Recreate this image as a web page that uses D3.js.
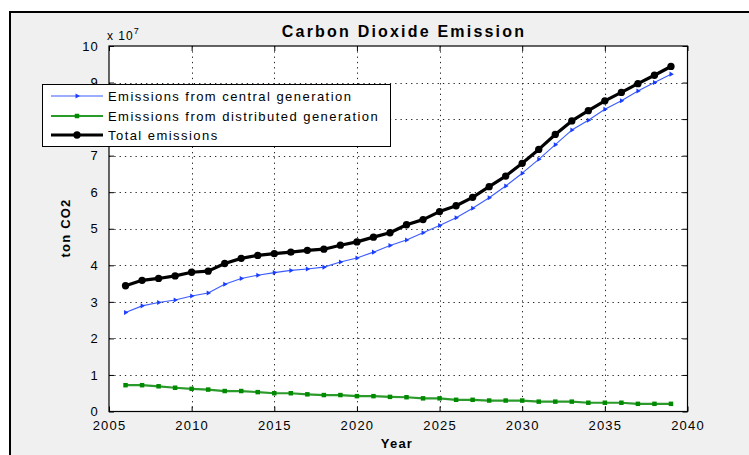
<!DOCTYPE html>
<html>
<head>
<meta charset="utf-8">
<script src="https://cdn.jsdelivr.net/npm/d3@7"></script>
<style>
  html, body { margin: 0; padding: 0; background: #ffffff; }
  svg { display: block; }
  text { font-family: "Liberation Sans", Arial, sans-serif; fill: #000; }
</style>
</head>
<body>
<svg id="chart" width="749" height="455"></svg>
<script>
// Emissions in units of 1e7 ton CO2, one value per year
const years = d3.range(2006, 2040);
const centralGeneration = [
  2.71, 2.89, 2.98, 3.05, 3.16, 3.24, 3.48, 3.64, 3.73, 3.80,
  3.86, 3.90, 3.95, 4.09, 4.20, 4.36, 4.54, 4.69, 4.89, 5.09,
  5.30, 5.56, 5.85, 6.17, 6.52, 6.90, 7.30, 7.70, 7.97, 8.27,
  8.50, 8.77, 9.00, 9.23
];
const distributedGeneration = [
  0.72, 0.72, 0.69, 0.65, 0.62, 0.60, 0.56, 0.56, 0.53, 0.50,
  0.50, 0.47, 0.45, 0.45, 0.42, 0.42, 0.40, 0.39, 0.36, 0.36,
  0.32, 0.32, 0.30, 0.30, 0.30, 0.27, 0.27, 0.27, 0.24, 0.24,
  0.24, 0.21, 0.21, 0.21
];
const totalEmissions = [
  3.44, 3.59, 3.64, 3.71, 3.81, 3.84, 4.05, 4.19, 4.27, 4.32,
  4.36, 4.41, 4.44, 4.55, 4.64, 4.77, 4.89, 5.11, 5.25, 5.47,
  5.63, 5.86, 6.15, 6.44, 6.79, 7.17, 7.58, 7.95, 8.23, 8.50,
  8.73, 8.97, 9.20, 9.44
];
const xTicks = [2005, 2010, 2015, 2020, 2025, 2030, 2035, 2040];
const yTicks = [0, 1, 2, 3, 4, 5, 6, 7, 8, 9, 10];
const seriesNames = [
  "Emissions from central generation",
  "Emissions from distributed generation",
  "Total emissions"
];

const svg = d3.select("#chart");
const plot = { left: 109, right: 687.5, top: 46, bottom: 411.5 };

// figure panel
svg.append("rect")
  .attr("x", 10).attr("y", 12).attr("width", 760).attr("height", 460)
  .attr("fill", "#f0f0f0").attr("stroke", "#000").attr("stroke-width", 2);

const x = d3.scaleLinear().domain([2005, 2040]).range([plot.left, plot.right]);
const y = d3.scaleLinear().domain([0, 10]).range([plot.bottom, plot.top]);

// axes background
svg.append("rect")
  .attr("x", plot.left).attr("y", plot.top)
  .attr("width", plot.right - plot.left).attr("height", plot.bottom - plot.top)
  .attr("fill", "#fff");

// dotted grid
const grid = svg.append("g").attr("stroke", "#000").attr("stroke-width", 1)
  .attr("stroke-dasharray", "1.3,4").attr("opacity", 0.85);
grid.selectAll("line.vx").data(xTicks.slice(1, -1)).join("line")
  .attr("x1", d => Math.round(x(d)) + 0.5).attr("x2", d => Math.round(x(d)) + 0.5)
  .attr("y1", plot.top).attr("y2", plot.bottom);
grid.selectAll("line.hy").data(yTicks.slice(1, -1)).join("line")
  .attr("y1", d => Math.round(y(d)) + 0.5).attr("y2", d => Math.round(y(d)) + 0.5)
  .attr("x1", plot.left).attr("x2", plot.right);

// axes with inward ticks on all four sides
const tickLen = 5;
const axisStyle = g => {
  g.select(".domain").remove();
  g.selectAll(".tick line").attr("stroke", "#000");
  g.selectAll(".tick text")
    .attr("font-size", 13).attr("letter-spacing", "1.2px").attr("fill", "#222");
};
svg.append("g").attr("transform", `translate(0,${plot.bottom})`)
  .call(d3.axisBottom(x).tickValues(xTicks).tickFormat(d3.format("d"))
    .tickSizeInner(-tickLen).tickSizeOuter(0).tickPadding(9))
  .call(axisStyle);
svg.append("g").attr("transform", `translate(0,${plot.top})`)
  .call(d3.axisTop(x).tickValues(xTicks).tickFormat("").tickSizeInner(-tickLen).tickSizeOuter(0))
  .call(axisStyle);
svg.append("g").attr("transform", `translate(${plot.left},0)`)
  .call(d3.axisLeft(y).tickValues(yTicks).tickFormat(d3.format("d"))
    .tickSizeInner(-tickLen).tickSizeOuter(0).tickPadding(10))
  .call(axisStyle);
svg.append("g").attr("transform", `translate(${plot.right},0)`)
  .call(d3.axisRight(y).tickValues(yTicks).tickFormat("").tickSizeInner(-tickLen).tickSizeOuter(0))
  .call(axisStyle);

// axes box
svg.append("rect")
  .attr("x", plot.left).attr("y", plot.top)
  .attr("width", plot.right - plot.left).attr("height", plot.bottom - plot.top)
  .attr("fill", "none").attr("stroke", "#000").attr("stroke-width", 1.2);

// exponent label
const expo = svg.append("text").attr("x", 107).attr("y", 40)
  .attr("font-size", 12).attr("letter-spacing", "1px").attr("fill", "#222");
expo.append("tspan").text("x 10");
expo.append("tspan").attr("dy", -6).attr("font-size", 9).text("7");

// series
const seriesDefs = [
  { name: seriesNames[0], values: centralGeneration, line: "#3b5bff", width: 1.1,
    marker: "#1a3dff", symbol: d3.symbolTriangle, size: 11, rotate: 90 },
  { name: seriesNames[1], values: distributedGeneration, line: "#2a9a2a", width: 2.2,
    marker: "#008a00", symbol: d3.symbolSquare, size: 20, rotate: 0 },
  { name: seriesNames[2], values: totalEmissions, line: "#000", width: 3.2,
    marker: "#000", symbol: d3.symbolCircle, size: 42, rotate: 0 }
];

const line = d3.line().x(d => x(d[0])).y(d => y(d[1]));

seriesDefs.forEach(s => {
  const pts = years.map((yr, i) => [yr, s.values[i]]);
  const g = svg.append("g");
  g.append("path").datum(pts)
    .attr("d", line).attr("fill", "none")
    .attr("stroke", s.line).attr("stroke-width", s.width)
    .attr("stroke-linejoin", "round");
  g.selectAll("path.m").data(pts).join("path")
    .attr("class", "m")
    .attr("d", d3.symbol().type(s.symbol).size(s.size))
    .attr("transform", d => `translate(${x(d[0])},${y(d[1])}) rotate(${s.rotate})`)
    .attr("fill", s.marker);
});

// legend
const legend = svg.append("g");
legend.append("rect")
  .attr("x", 42.5).attr("y", 84.5).attr("width", 348).attr("height", 62)
  .attr("fill", "#fff").attr("stroke", "#000").attr("stroke-width", 1);
const rowY = [96, 116, 135];
seriesDefs.forEach((s, i) => {
  legend.append("line")
    .attr("x1", 51).attr("x2", 103).attr("y1", rowY[i]).attr("y2", rowY[i])
    .attr("stroke", s.line).attr("stroke-width", s.width);
  legend.append("path")
    .attr("d", d3.symbol().type(s.symbol).size(s.size))
    .attr("transform", `translate(77,${rowY[i]}) rotate(${s.rotate})`)
    .attr("fill", s.marker);
  legend.append("text")
    .attr("x", 108).attr("y", rowY[i] + 5)
    .attr("font-size", 13).attr("letter-spacing", "1.45px").attr("fill", "#222")
    .text(s.name);
});

// title and axis labels
svg.append("text").attr("x", 404).attr("y", 37).attr("text-anchor", "middle")
  .attr("font-size", 16).attr("font-weight", "bold").attr("letter-spacing", "2.2px")
  .text("Carbon Dioxide Emission");
svg.append("text").attr("x", 397).attr("y", 448).attr("text-anchor", "middle")
  .attr("font-size", 13).attr("font-weight", "bold").attr("letter-spacing", "1.2px")
  .text("Year");
svg.append("text").attr("transform", "translate(70,228) rotate(-90)")
  .attr("text-anchor", "middle")
  .attr("font-size", 13).attr("font-weight", "bold").attr("letter-spacing", "1.2px")
  .text("ton CO2");
</script>
</body>
</html>
